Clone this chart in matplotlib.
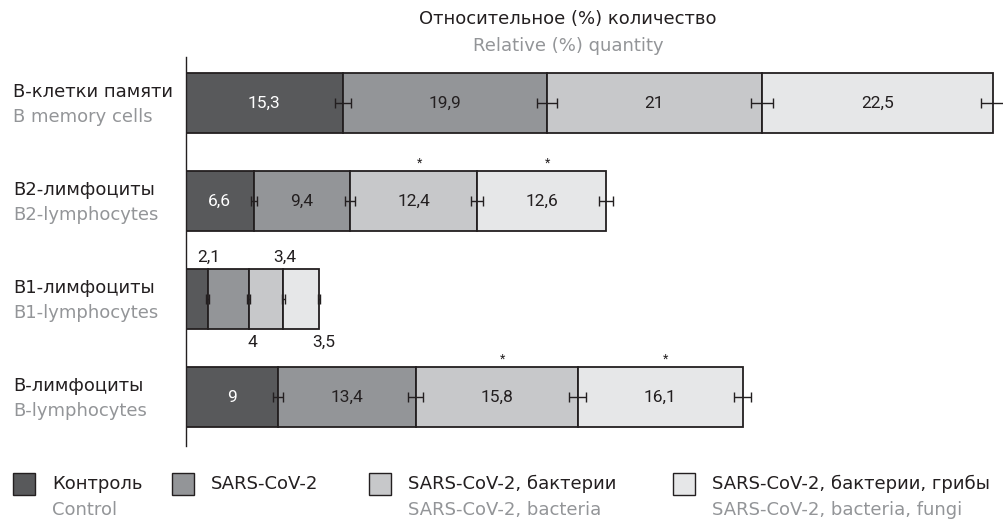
import matplotlib
matplotlib.use("Agg")
import matplotlib.pyplot as plt
from matplotlib.patches import Rectangle
from matplotlib.transforms import blended_transform_factory
import numpy as np

plt.rcParams['font.family'] = ['DejaVu Sans']

# ---- data ----
categories_ru = ["В-клетки памяти", "B2-лимфоциты", "B1-лимфоциты", "В-лимфоциты"]
categories_en = ["B memory cells", "B2-lymphocytes", "B1-lymphocytes", "B-lymphocytes"]
series_ru = ["Контроль", "SARS-CoV-2", "SARS-CoV-2, бактерии", "SARS-CoV-2, бактерии, грибы"]
series_en = ["Control", "", "SARS-CoV-2, bacteria", "SARS-CoV-2, bacteria, fungi"]
control = [15.3, 6.6, 2.1, 9.0]
sars = [19.9, 9.4, 4.0, 13.4]
sars_bact = [21.0, 12.4, 3.4, 15.8]
sars_bact_fungi = [22.5, 12.6, 3.5, 16.1]
err_control = [0.8, 0.3, 0.12, 0.5]
err_sars = [1.0, 0.5, 0.12, 0.7]
err_bact = [1.1, 0.6, 0.12, 0.8]
err_fungi = [1.1, 0.7, 0.12, 0.8]
value_labels = [["15,3", "19,9", "21", "22,5"],
                ["6,6", "9,4", "12,4", "12,6"],
                ["2,1", "4", "3,4", "3,5"],
                ["9", "13,4", "15,8", "16,1"]]
# significance marks: (category index, series index)
stars = [(1, 2), (1, 3), (3, 2), (3, 3)]
title_ru = "Относительное (%) количество"
title_en = "Relative (%) quantity"

colors = ["#58595b", "#939598", "#c7c8ca", "#e6e7e8"]
text_colors = ["white", "#231f20", "#231f20", "#231f20"]
edge = "#231f20"
gray = "#939598"
LFS = 13          # label font size
NFS = 12.5        # number font size
NUMFONT = ['Roboto', 'DejaVu Sans']

W, H = 1004, 519
fig = plt.figure(figsize=(W / 100, H / 100), dpi=100)
ax = fig.add_axes([186 / W, 1 - 446 / H, 1 - 186 / W, (446 - 57) / H])

series = [control, sars, sars_bact, sars_bact_fungi]
errs = [err_control, err_sars, err_bact, err_fungi]
pos = np.arange(len(categories_ru))
bh = 0.612
left = np.zeros(len(pos))
for si, vals in enumerate(series):
    vals = np.array(vals)
    ax.barh(pos, vals, left=left, height=bh, color=colors[si], edgecolor=edge,
            linewidth=1.3, zorder=2)
    ends = left + vals
    ax.errorbar(ends, pos, xerr=errs[si], fmt='none', ecolor=edge, elinewidth=1.0,
                capsize=3.3, capthick=1.0, zorder=3, clip_on=False)
    for ci in range(len(pos)):
        lab = value_labels[ci][si]
        if ci == 2:
            # small bars: labels outside, alternately above/below at segment end
            if si % 2 == 0:
                ax.annotate(lab, (ends[ci], pos[ci] - bh / 2), xytext=(1, 3),
                            textcoords='offset points', ha='center', va='bottom',
                            fontsize=NFS, color=edge, family=NUMFONT)
            else:
                ax.annotate(lab, (ends[ci], pos[ci] + bh / 2), xytext=(3, -4),
                            textcoords='offset points', ha='center', va='top',
                            fontsize=NFS, color=edge, family=NUMFONT)
        else:
            ax.text(left[ci] + vals[ci] / 2, pos[ci], lab, ha='center', va='center',
                    fontsize=NFS, color=text_colors[si], zorder=4, family=NUMFONT)
    for (ci, sj) in stars:
        if sj == si:
            ax.annotate("*", (left[ci] + vals[ci] / 2, pos[ci] - bh / 2), xytext=(4, 1),
                        textcoords='offset points', ha='center', va='bottom',
                        fontsize=9, color=edge, family=NUMFONT)
    left = ends

ax.set_xlim(0, (W - 186) / 10.25)
ax.set_ylim(3.5, -0.47)
for s in ["top", "right", "bottom"]:
    ax.spines[s].set_visible(False)
ax.spines["left"].set_color(edge)
ax.spines["left"].set_linewidth(1.0)
ax.set_xticks([])
ax.set_yticks([])

# category labels
tr = blended_transform_factory(fig.transFigure, ax.transData)
for ci in range(len(pos)):
    ax.text(13 / W, pos[ci] - 0.11, categories_ru[ci], transform=tr, ha='left',
            va='center', fontsize=LFS, color=edge)
    ax.text(13 / W, pos[ci] + 0.145, categories_en[ci], transform=tr, ha='left',
            va='center', fontsize=LFS, color=gray)

# title
fig.text(568 / W, 1 - 19 / H, title_ru, ha='center', va='center', fontsize=LFS, color=edge)
fig.text(568 / W, 1 - 46 / H, title_en, ha='center', va='center', fontsize=LFS, color=gray)

# legend
leg_x = [13, 172, 369, 673]
for i in range(4):
    x0 = leg_x[i]
    fig.patches.append(Rectangle((x0 / W, 1 - 495 / H), 22 / W, 22 / H,
                                 transform=fig.transFigure, facecolor=colors[i],
                                 edgecolor=edge, linewidth=1.0))
    fig.text((x0 + 39) / W, 1 - 484 / H, series_ru[i], ha='left', va='center',
             fontsize=LFS, color=edge)
    if series_en[i]:
        fig.text((x0 + 39) / W, 1 - 510 / H, series_en[i], ha='left', va='center',
                 fontsize=LFS, color=gray)

fig.savefig("out.png", dpi=100)
